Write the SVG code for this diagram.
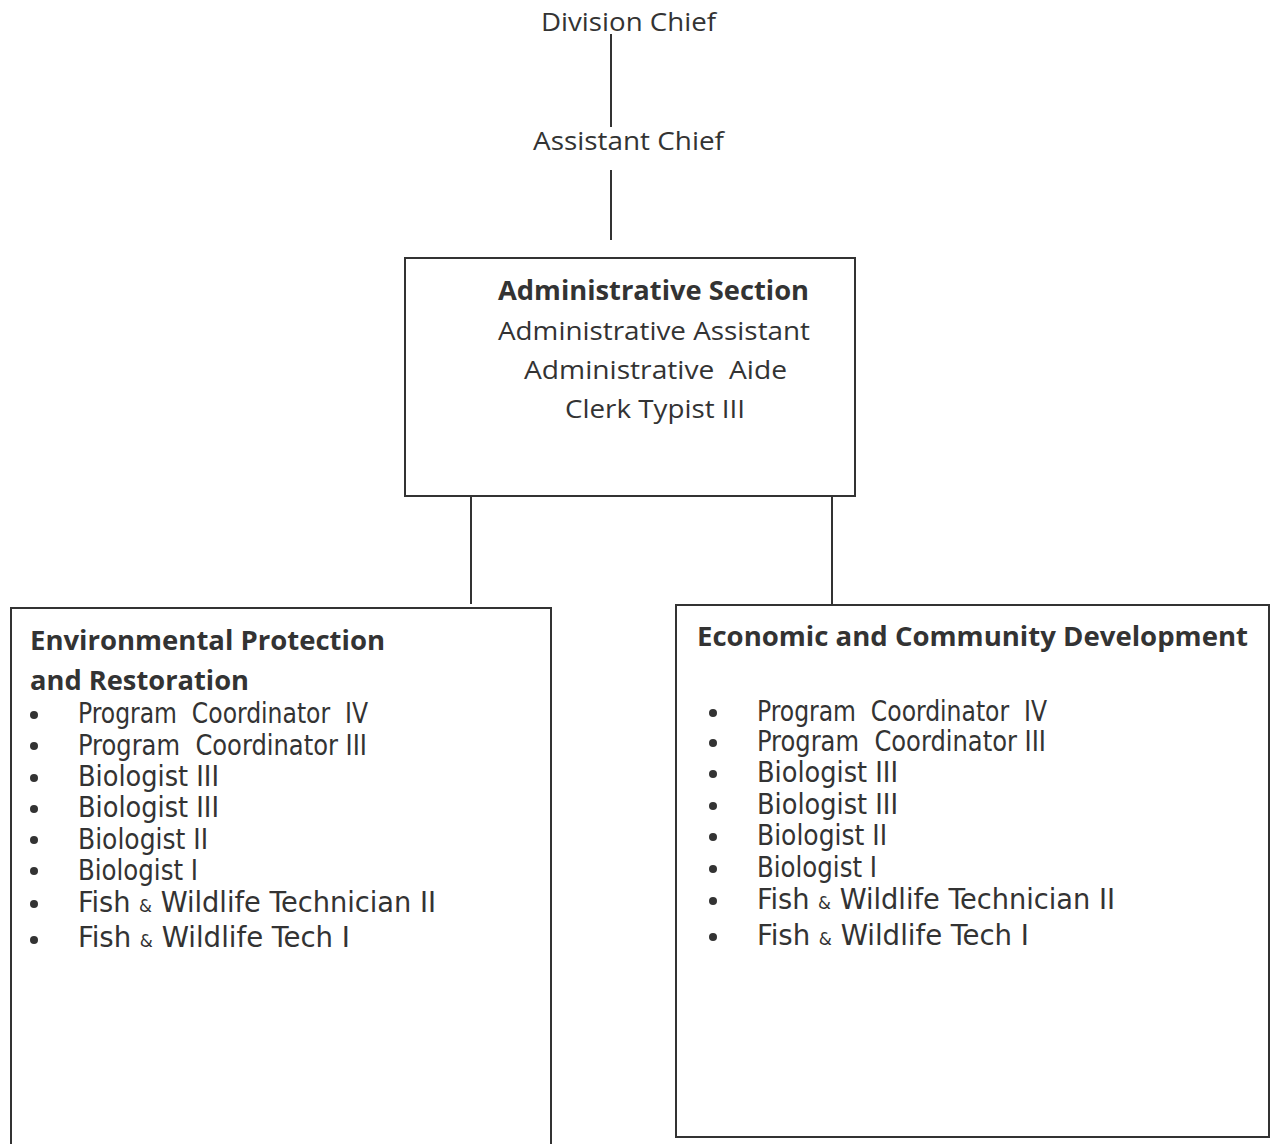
<svg xmlns="http://www.w3.org/2000/svg" width="1270" height="1144" viewBox="0 0 1270 1144">
<style>
.t{font-family:"Open Sans","Liberation Sans",sans-serif;fill:#333;font-size:26px}
.b{font-weight:bold}
.i{font-family:"DejaVu Sans Condensed","DejaVu Sans",sans-serif;fill:#333;font-size:28px}
.amp{font-size:17px}
.box{fill:none;stroke:#333;stroke-width:2}
.ln{stroke:#333;stroke-width:2;fill:none}
.dot{fill:#333}
</style>
<rect width="1270" height="1144" fill="#fff"/>
<g id="connectors">
<line class="ln" x1="611" y1="34" x2="611" y2="127"/>
<line class="ln" x1="611" y1="170" x2="611" y2="240"/>
<line class="ln" x1="471" y1="496" x2="471" y2="604"/>
<line class="ln" x1="832" y1="496" x2="832" y2="605"/>
</g>
<g id="division-chief">
<text class="t" x="541" y="31" textLength="175" lengthAdjust="spacingAndGlyphs">Division Chief</text>
</g>
<g id="assistant-chief">
<text class="t" x="533" y="150" textLength="191" lengthAdjust="spacingAndGlyphs">Assistant Chief</text>
</g>
<g id="admin-section">
<rect class="box" x="405" y="258" width="450" height="238"/>
<text class="t b" x="498" y="300" textLength="311" lengthAdjust="spacingAndGlyphs">Administrative Section</text>
<text class="t" x="498" y="340" textLength="312" lengthAdjust="spacingAndGlyphs">Administrative Assistant</text>
<text class="t" x="524" y="379" textLength="263" lengthAdjust="spacingAndGlyphs" xml:space="preserve">Administrative  Aide</text>
<text class="t" x="565" y="418" textLength="180" lengthAdjust="spacingAndGlyphs">Clerk Typist III</text>
</g>
<g id="env-protection">
<path class="box" d="M11,1144 V608 H551 V1144"/>
<text class="t b" x="30" y="650" textLength="355" lengthAdjust="spacingAndGlyphs">Environmental Protection</text>
<text class="t b" x="30" y="690" textLength="219" lengthAdjust="spacingAndGlyphs">and Restoration</text>
<circle class="dot" cx="34" cy="715" r="4"/>
<circle class="dot" cx="34" cy="746" r="4"/>
<circle class="dot" cx="34" cy="778" r="4"/>
<circle class="dot" cx="34" cy="809" r="4"/>
<circle class="dot" cx="34" cy="840" r="4"/>
<circle class="dot" cx="34" cy="871" r="4"/>
<circle class="dot" cx="34" cy="904" r="4"/>
<circle class="dot" cx="34" cy="940" r="4"/>
<text class="i" x="78" y="723" textLength="290" lengthAdjust="spacingAndGlyphs" xml:space="preserve">Program  Coordinator  IV</text>
<text class="i" x="78" y="755" textLength="289" lengthAdjust="spacingAndGlyphs" xml:space="preserve">Program  Coordinator III</text>
<text class="i" x="78" y="786" textLength="141" lengthAdjust="spacingAndGlyphs">Biologist III</text>
<text class="i" x="78" y="817" textLength="141" lengthAdjust="spacingAndGlyphs">Biologist III</text>
<text class="i" x="78" y="849" textLength="130" lengthAdjust="spacingAndGlyphs">Biologist II</text>
<text class="i" x="78" y="880" textLength="120" lengthAdjust="spacingAndGlyphs">Biologist I</text>
<text class="i" x="78" y="912" textLength="358" lengthAdjust="spacingAndGlyphs">Fish <tspan class="amp">&amp;</tspan> Wildlife Technician II</text>
<text class="i" x="78" y="947" textLength="272" lengthAdjust="spacingAndGlyphs">Fish <tspan class="amp">&amp;</tspan> Wildlife Tech I</text>
</g>
<g id="econ-development">
<rect class="box" x="676" y="605" width="593" height="532"/>
<text class="t b" x="697" y="646" textLength="551" lengthAdjust="spacingAndGlyphs">Economic and Community Development</text>
<circle class="dot" cx="713" cy="713" r="4"/>
<circle class="dot" cx="713" cy="743" r="4"/>
<circle class="dot" cx="713" cy="774" r="4"/>
<circle class="dot" cx="713" cy="806" r="4"/>
<circle class="dot" cx="713" cy="837" r="4"/>
<circle class="dot" cx="713" cy="869" r="4"/>
<circle class="dot" cx="713" cy="901" r="4"/>
<circle class="dot" cx="713" cy="937" r="4"/>
<text class="i" x="757" y="721" textLength="290" lengthAdjust="spacingAndGlyphs" xml:space="preserve">Program  Coordinator  IV</text>
<text class="i" x="757" y="751" textLength="289" lengthAdjust="spacingAndGlyphs" xml:space="preserve">Program  Coordinator III</text>
<text class="i" x="757" y="782" textLength="141" lengthAdjust="spacingAndGlyphs">Biologist III</text>
<text class="i" x="757" y="814" textLength="141" lengthAdjust="spacingAndGlyphs">Biologist III</text>
<text class="i" x="757" y="845" textLength="130" lengthAdjust="spacingAndGlyphs">Biologist II</text>
<text class="i" x="757" y="877" textLength="120" lengthAdjust="spacingAndGlyphs">Biologist I</text>
<text class="i" x="757" y="909" textLength="358" lengthAdjust="spacingAndGlyphs">Fish <tspan class="amp">&amp;</tspan> Wildlife Technician II</text>
<text class="i" x="757" y="945" textLength="272" lengthAdjust="spacingAndGlyphs">Fish <tspan class="amp">&amp;</tspan> Wildlife Tech I</text>
</g>
</svg>
